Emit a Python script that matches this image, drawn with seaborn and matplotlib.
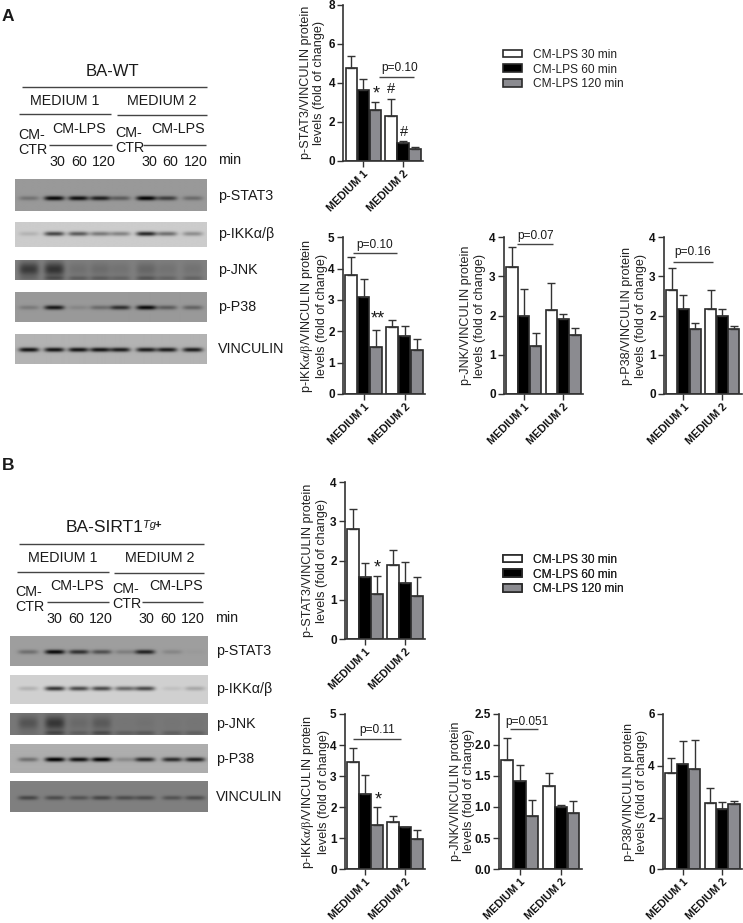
import numpy as np
import pandas as pd
import matplotlib
matplotlib.use("Agg")
import matplotlib.pyplot as plt
from matplotlib.patches import Patch
import seaborn as sns

sns.set_style("ticks")
plt.rcParams['font.family'] = ['Liberation Sans', 'DejaVu Sans']
plt.rcParams['mathtext.fontset'] = 'stix'

W, H = 743, 923
MEDIA = ["MEDIUM 1", "MEDIUM 2"]
TIMES = ["CM-LPS 30 min", "CM-LPS 60 min", "CM-LPS 120 min"]
COLORS = ["#ffffff", "#000000", "#8b8b90"]

# bar heights and upper error ends (order: M1 30/60/120, M2 30/60/120)
a_stat3 = [4.73, 3.62, 2.60, 2.27, 0.89, 0.60]
a_stat3_top = [5.37, 4.20, 3.00, 3.18, 0.99, 0.70]
a_ikk = [3.79, 3.11, 1.49, 2.14, 1.86, 1.40]
a_ikk_top = [4.36, 3.66, 2.04, 2.35, 2.16, 1.77]
a_jnk = [3.25, 2.00, 1.22, 2.14, 1.92, 1.50]
a_jnk_top = [3.74, 2.67, 1.55, 2.83, 2.05, 1.69]
a_p38 = [2.66, 2.16, 1.65, 2.16, 2.00, 1.66]
a_p38_top = [3.21, 2.52, 1.82, 2.66, 2.18, 1.74]
b_stat3 = [2.81, 1.58, 1.15, 1.88, 1.44, 1.11]
b_stat3_top = [3.33, 1.93, 1.61, 2.26, 1.96, 1.57]
b_ikk = [3.47, 2.41, 1.42, 1.51, 1.35, 0.99]
b_ikk_top = [3.89, 3.03, 2.01, 1.73, 1.37, 1.28]
b_jnk = [1.75, 1.42, 0.85, 1.33, 1.00, 0.91]
b_jnk_top = [2.10, 1.68, 1.11, 1.54, 1.03, 1.09]
b_p38 = [3.71, 4.05, 3.86, 2.55, 2.32, 2.51]
b_p38_top = [4.29, 4.94, 4.99, 3.13, 2.59, 2.65]

# band darkness per lane of the blots
a_blot_stat3 = [.25, .95, .9, .8, .4, .98, .6, .3]
a_blot_ikk = [.12, .65, .55, .4, .35, .8, .45, .3]
a_blot_jnk = [.1, .3, .25, .25, .2, .3, .2, .2]
a_haze_jnk = [.55, .6, .12, .15, .1, .2, .1, .1]
a_blot_p38 = [.2, .85, .12, .3, .7, .95, .4, .35]
a_blot_vinc = [.9, .9, .9, .9, .85, .85, .85, .85]
b_blot_stat3 = [.3, .95, .7, .5, .2, .8, .15, .03]
b_blot_ikk = [.15, .75, .65, .65, .5, .65, .08, .2]
b_blot_jnk = [.05, .35, .2, .35, .2, .25, .2, .2]
b_haze_jnk = [.3, .55, .12, .25, .02, .05, .02, .02]
b_blot_p38 = [.35, 1, .9, 1, .2, .75, .75, .8]
b_blot_vinc = [.45, .4, .35, .45, .4, .4, .35, .4]
blot_names = ["p-STAT3", "p-IKKα/β", "p-JNK", "p-P38", "VINCULIN"]

YL = "p-%s/VINCULIN protein\nlevels (fold of change)"
IKK = r"p-IKK$\mathrm{\alpha/\beta}$/VINCULIN protein" + "\nlevels (fold of change)"

fig = plt.figure(figsize=(W / 100, H / 100), dpi=100, facecolor="white")
ov = fig.add_axes([0, 0, 1, 1], zorder=5, facecolor="none")
ov.set_xlim(0, W)
ov.set_ylim(H, 0)
ov.axis("off")


def T(x, y, s, size=10.3, ha="center", **kw):
    ov.text(x, y, s, fontsize=size, ha=ha, va="center", color="#1a1a1a", **kw)


def L(x0, x1, y, c="#444444", lw=1.0):
    ov.plot([x0, x1], [y, y], color=c, lw=lw, solid_capstyle="butt")


def panel(rect, vals, tops, ymax, ticks, ylabel, label_x, fmt="%g"):
    l, r, t, b = rect
    ax = fig.add_axes([l / W, 1 - b / H, (r - l) / W, (b - t) / H])
    df = pd.DataFrame({
        "medium": [m for m in MEDIA for _ in TIMES],
        "time": TIMES * 2,
        "value": vals,
    })
    sns.barplot(data=df, x="medium", y="value", hue="time", hue_order=TIMES,
                palette=dict(zip(TIMES, COLORS)), width=0.9, gap=0.05,
                saturation=1, edgecolor="#2a2a2a", linewidth=1.2,
                legend=False, errorbar=None, ax=ax)
    for i, cont in enumerate(list(ax.containers)):
        for j, bar in enumerate(cont):
            k = j * 3 + i
            ax.errorbar(bar.get_x() + bar.get_width() / 2, vals[k],
                        yerr=[[0], [tops[k] - vals[k]]], color="#333333",
                        elinewidth=1, capsize=2.6, capthick=1, zorder=1)
    ax.set_xlim(-0.5, 1.5)
    ax.set_ylim(0, ymax)
    ax.set_yticks(ticks)
    ax.set_yticklabels([fmt % v for v in ticks], fontsize=8.5, fontweight="bold", color="#111111")
    ax.set_xticks([0, 1])
    ax.set_xticklabels(MEDIA, rotation=45, ha="right", rotation_mode="anchor",
                       fontsize=7.8, fontweight="bold", color="#111111")
    ax.set_xlabel("")
    ax.set_ylabel("")
    ax.tick_params(axis="both", length=4, width=1, color="#333333", pad=1.5)
    ax.tick_params(axis="y", pad=2)
    for s in ("left", "bottom"):
        ax.spines[s].set_linewidth(1.2)
        ax.spines[s].set_color("#333333")
    sns.despine(ax=ax)
    ov.text(label_x, (t + b) / 2, ylabel, rotation=90, fontsize=9.1, ha="center",
            va="center", color="#222222", linespacing=1.22, multialignment="center")
    return ax


def blot(x0, x1, y0, y1, bg, centers, dark, band_y, bw=10, bh=2.2, haze=None):
    xs = np.arange(x0, x1, 0.5)
    ys = np.arange(y0, y1, 0.5)
    X, Y = np.meshgrid(xs, ys)
    img = np.full(X.shape, bg, dtype=float)
    for c, d in zip(centers, dark):
        g = np.exp(-np.abs((X - c) / bw) ** 4) * np.exp(-((Y - band_y) / bh) ** 2)
        img -= d * bg * g
    if haze is not None:
        for c, d in zip(centers, haze):
            g = np.exp(-np.abs((X - c) / 10) ** 4) * np.exp(-((Y - (y0 + band_y) / 2) / 7) ** 2)
            img -= d * bg * g
    ov.imshow(np.clip(img, 0, 1), extent=(x0, x1, y1, y0), cmap="gray", vmin=0, vmax=1,
              aspect="auto", zorder=1, interpolation="bilinear")


def western(x0, x1, rows, centers, dx_label):
    for name, (y0, y1, bg, dark, by, haze) in zip(blot_names, rows):
        blot(x0, x1, y0, y1, bg, centers, dark, by, haze=haze)
        T(dx_label, (y0 + y1) / 2 + (0 if name != "p-IKKα/β" else -1), name, ha="left")


# ---- Panel letters ----
T(2, 16.5, "A", size=12.5, ha="left", fontweight="bold")
T(2, 465.5, "B", size=12.5, ha="left", fontweight="bold")

# ---- Blot headers A ----
T(112, 71, "BA-WT", size=12)
L(22, 207, 86.7)
T(65, 100.7, "MEDIUM 1")
T(162, 100.7, "MEDIUM 2")
L(19.3, 111, 114)
L(117.3, 206.7, 115.3)
T(18.3, 135, "CM-", ha="left")
T(18.3, 150, "CTR", ha="left")
T(79, 129, "CM-LPS")
L(49.3, 111.7, 145.3)
T(115, 132.7, "CM-", ha="left")
T(115, 147.7, "CTR", ha="left")
T(178, 129, "CM-LPS")
L(143.3, 206, 145.3)
for x, s in zip([57.3, 78.7, 103.7, 149.3, 170.3, 196], ["30", "60", "120"] * 2):
    T(x, 161.7, s)
T(218.3, 160.3, "min", ha="left")

a_lanes = [29, 54.3, 78.3, 100, 120, 146, 166.7, 192.3]
western(15.3, 206.7, [
    (180, 211.3, .60, a_blot_stat3, 198.7, None),
    (223, 247.3, .80, a_blot_ikk, 234.3, None),
    (260, 280, .50, a_blot_jnk, 278, a_haze_jnk),
    (292.7, 322.3, .60, a_blot_p38, 308, None),
    (334, 364, .70, a_blot_vinc, 349.5, None),
], a_lanes, 218.3)

# ---- Blot headers B ----
T(65.7, 527.3, "BA-SIRT1", size=12.5, ha="left")
T(143.3, 525, "Tg", size=8, ha="left", fontstyle="italic")
T(154.5, 525, "+", size=8, ha="left", fontweight="bold")
L(19, 204, 544)
T(62.3, 558.3, "MEDIUM 1")
T(159.3, 558.3, "MEDIUM 2")
L(16.7, 109, 571.7)
L(114.3, 204, 573)
T(15.7, 592.3, "CM-", ha="left")
T(15.7, 607.3, "CTR", ha="left")
T(76.7, 586.3, "CM-LPS")
L(46.7, 109.3, 602.3)
T(112.7, 589.3, "CM-", ha="left")
T(112.7, 604.3, "CTR", ha="left")
T(175.7, 586.3, "CM-LPS")
L(141.7, 203.3, 602.3)
for x, s in zip([54.3, 76, 100.7, 146.7, 168.3, 193.3], ["30", "60", "120"] * 2):
    T(x, 618.7, s)
T(215, 617.7, "min", ha="left")

b_lanes = [28.3, 55, 79, 101.7, 125, 145, 172.3, 195]
western(10.3, 208.3, [
    (636.3, 666, .62, b_blot_stat3, 652, None),
    (675, 704, .82, b_blot_ikk, 688.3, None),
    (713.3, 735.3, .47, b_blot_jnk, 733, b_haze_jnk),
    (744.3, 772.7, .68, b_blot_p38, 759.3, None),
    (781.7, 812.3, .50, b_blot_vinc, 798.3, None),
], b_lanes, 215.7)

# ---- Charts A ----
panel((343.3, 423, 4.7, 160.7), a_stat3, a_stat3_top, 8, [0, 2, 4, 6, 8], YL % "STAT3", 312.5)
panel((343, 425, 237.3, 394), a_ikk, a_ikk_top, 5, [0, 1, 2, 3, 4, 5], IKK, 313.5)
panel((504, 583, 237.3, 394), a_jnk, a_jnk_top, 4, [0, 1, 2, 3, 4], YL % "JNK", 473)
panel((664, 741.7, 237.3, 394), a_p38, a_p38_top, 4, [0, 1, 2, 3, 4], YL % "P38", 634)

# ---- Charts B ----
panel((345, 425, 482.3, 639), b_stat3, b_stat3_top, 4, [0, 1, 2, 3, 4], YL % "STAT3", 315)
panel((345, 425, 714, 869.3), b_ikk, b_ikk_top, 5, [0, 1, 2, 3, 4, 5], IKK, 315)
panel((499, 581.7, 713.5, 869.3), b_jnk, b_jnk_top, 2.5, [0, .5, 1, 1.5, 2, 2.5], YL % "JNK", 462.5, fmt="%.1f")
panel((663, 742, 714, 869.3), b_p38, b_p38_top, 6, [0, 2, 4, 6], YL % "P38", 635.5)

# ---- Annotations ----
T(376.7, 94, "*", size=13)
T(390.7, 89.3, "#", size=10.5)
T(404, 131.7, "#", size=10.5)
T(399.3, 68.3, "p=0.10", size=8.6)
L(379.3, 414, 77.3)
T(378.3, 319, "**", size=13)
T(375, 245, "p=0.10", size=8.6)
L(352.7, 397.3, 253.3)
T(536, 236, "p=0.07", size=8.6)
L(517.3, 553.3, 244)
T(692.7, 252.3, "p=0.16", size=8.6)
L(672.7, 712.7, 261.7)
T(377.3, 568, "*", size=13)
T(378.7, 800, "*", size=13)
T(377.3, 730.3, "p=0.11", size=8.6)
L(352.7, 400.7, 738.7)
T(526.7, 721.7, "p=0.051", size=8.6)
L(510, 538.3, 729.3)

# ---- Legends ----
handles = [Patch(facecolor=c, edgecolor="#2a2a2a", linewidth=1.2) for c in COLORS]
for yc in (69.5, 574.5):
    leg = ov.legend(handles, TIMES, loc="center left", bbox_to_anchor=(502.5, yc),
                    bbox_transform=ov.transData, frameon=False, fontsize=8.6,
                    borderpad=0, borderaxespad=0, handlelength=1.67, handleheight=0.62,
                    handletextpad=0.85, labelspacing=0.23, labelcolor="#222222")
    ov.add_artist(leg)

ov.set_xlim(0, W)
ov.set_ylim(H, 0)
fig.savefig("out.png", dpi=100)
